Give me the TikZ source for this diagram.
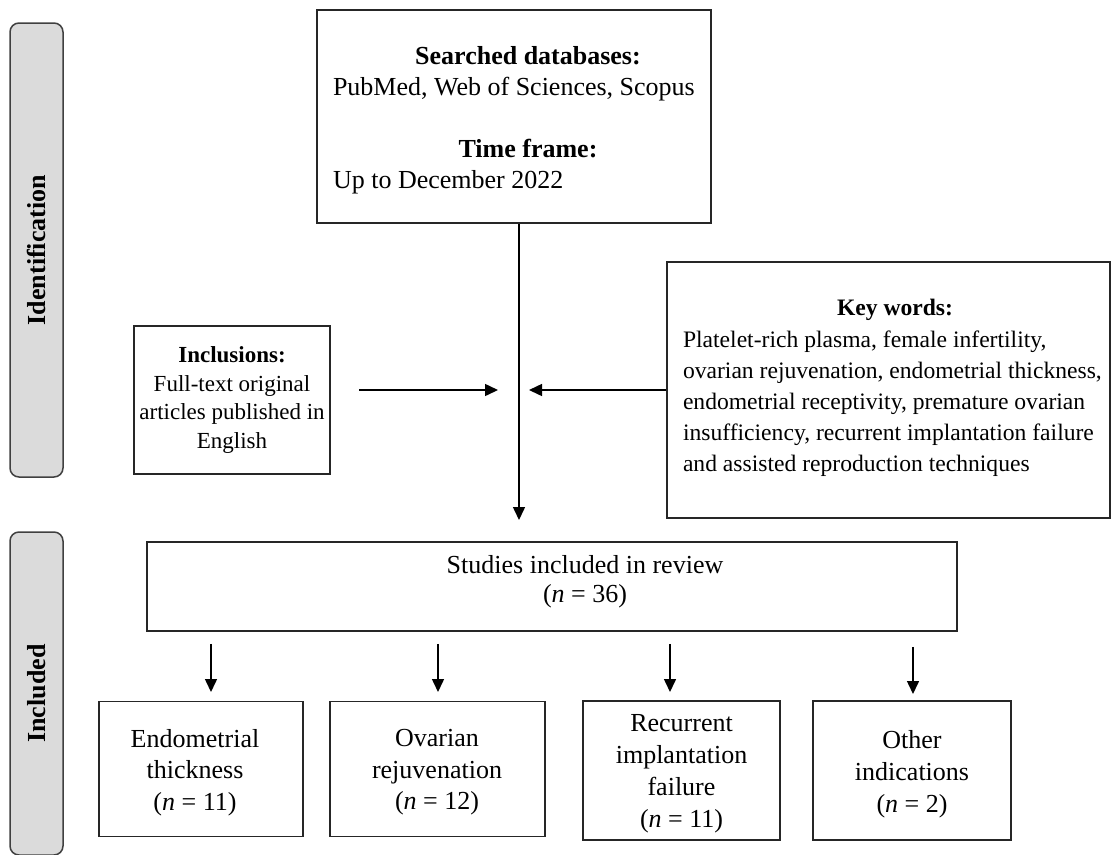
\documentclass[tikz,border=0pt]{standalone}
\usepackage{fontspec}
\setmainfont{Liberation Serif}
\usetikzlibrary{arrows.meta}
\begin{document}
\begin{tikzpicture}[x=1pt,y=-1pt,
  box/.style={draw=black!85, line width=1.8pt, inner sep=0pt},
  txt/.style={inner sep=0pt, align=center, font=\fontsize{26}{31}\selectfont},
  bar/.style={draw=black!75, fill=gray!28, line width=1.5pt, rounded corners=9pt, inner sep=0pt, font=\fontsize{26}{30}\selectfont\bfseries},
  arr/.style={line width=1.5pt, -{Triangle[length=13pt,width=12pt]}},
]
\useasboundingbox (0,0) rectangle (1118,854);

% side bars
\node[bar, minimum width=454, minimum height=53, rotate=90] (ident) at (36.5,250) {Identification};
\node[bar, minimum width=323, minimum height=53, rotate=90] (incl) at (36.5,693.5) {Included};

% top box
\node[box, minimum width=394, minimum height=213] (db) at (514,116.5) {};
\node[txt, text width=372, align=flush left] (dbt) at (519,120)
  {\makebox[\linewidth]{\hspace{18pt}\bfseries Searched databases:}\\
   PubMed, Web of Sciences, Scopus\\[31pt]
   \makebox[\linewidth]{\hspace{18pt}\bfseries Time frame:}\\
   Up to December 2022};

% inclusions
\node[box, minimum width=196, minimum height=148] (inc) at (232,400) {};
\node[txt, font=\fontsize{23}{28.5}\selectfont] (inct) at (232,400)
  {\textbf{Inclusions:}\\ Full-text original\\ articles published in\\ English};

% key words
\node[box, minimum width=443, minimum height=256] (kw) at (888.5,390) {};
\node[txt, text width=424, align=flush left, font=\fontsize{23.6}{31.1}\selectfont] (kwt) at (895,388)
  {\makebox[\linewidth]{\bfseries Key words:}\\
   Platelet-rich plasma, female infertility,\\
   ovarian rejuvenation, endometrial thickness,\\
   endometrial receptivity, premature ovarian\\
   insufficiency, recurrent implantation failure\\
   and assisted reproduction techniques};

% studies
\node[box, minimum width=810, minimum height=89] (st) at (552,586.5) {};
\node[txt, font=\fontsize{26}{29}\selectfont] (stt) at (585,582)
  {Studies included in review\\ (\textit{n} = 36)};

% bottom boxes
\node[box, minimum width=204, minimum height=135] (b1) at (201,769) {};
\node[txt, font=\fontsize{26}{31.5}\selectfont] (b1t) at (195,772.5)
  {Endometrial\\ thickness\\ (\textit{n} = 11)};
\node[box, minimum width=215, minimum height=135] (b2) at (437.5,769) {};
\node[txt, font=\fontsize{26}{31.5}\selectfont] (b2t) at (437,772.5)
  {Ovarian\\ rejuvenation\\ (\textit{n} = 12)};
\node[box, minimum width=197, minimum height=139] (b3) at (681.5,770.5) {};
\node[txt, font=\fontsize{26}{32}\selectfont] (b3t) at (681.5,774)
  {Recurrent\\ implantation\\ failure\\ (\textit{n} = 11)};
\node[box, minimum width=198, minimum height=139] (b4) at (912,770.5) {};
\node[txt, font=\fontsize{26}{32}\selectfont] (b4t) at (912,774)
  {Other\\ indications\\ (\textit{n} = 2)};

% connectors
\coordinate (junc) at (519,520);
\coordinate (jl) at (498,390);
\coordinate (jr) at (529,390);
\coordinate (incs) at (359,390);
\draw[arr] (db.south -| junc) -- (junc);
\draw[arr] (incs) -- (jl);
\draw[arr] (kw.west) -- (jr);

\coordinate (t1) at (211,692);
\coordinate (t2) at (438,692);
\coordinate (t3) at (670,692);
\coordinate (t4) at (913,694);
\draw[arr, shorten <=12pt] (st.south -| t1) -- (t1);
\draw[arr, shorten <=12pt] (st.south -| t2) -- (t2);
\draw[arr, shorten <=12pt] (st.south -| t3) -- (t3);
\draw[arr, shorten <=15pt] (st.south -| t4) -- (t4);
\end{tikzpicture}
\end{document}
